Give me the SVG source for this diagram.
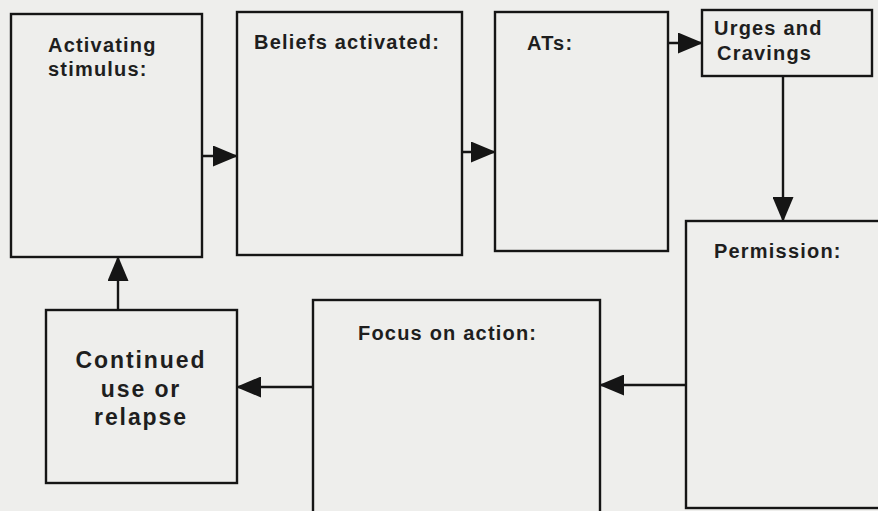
<svg xmlns="http://www.w3.org/2000/svg" width="878" height="511" viewBox="0 0 878 511">
  <style>
    .box { fill: none; stroke: #151515; stroke-width: 2.4; }
    .lbl { font-family: "Liberation Sans", Arial, sans-serif; font-weight: bold; font-size: 20px; letter-spacing: 1.2px; fill: #1e1e1e; }
    .big { font-size: 23px; letter-spacing: 1.9px; }
    .conn { stroke: #151515; stroke-width: 2.4; fill: none; marker-end: url(#ah); }
  </style>
  <defs>
    <marker id="ah" viewBox="0 0 25 21" refX="24" refY="10.5" markerWidth="25" markerHeight="21" markerUnits="userSpaceOnUse" orient="auto">
      <path d="M0,0 L25,10.5 L0,21 z" fill="#151515"/>
    </marker>
  </defs>

  <rect width="878" height="511" fill="#eeeeec"/>

  <g id="connectors">
    <line class="conn" x1="202" y1="156" x2="237" y2="156"/>
    <line class="conn" x1="462" y1="152" x2="495" y2="152"/>
    <line class="conn" x1="668" y1="43" x2="702" y2="43"/>
    <line class="conn" x1="783" y1="76" x2="783" y2="221"/>
    <line class="conn" x1="686" y1="385" x2="600" y2="385"/>
    <line class="conn" x1="313" y1="387" x2="237" y2="387"/>
    <line class="conn" x1="118" y1="310" x2="118" y2="257"/>
  </g>

  <g id="activating-stimulus">
    <rect class="box" x="11" y="14" width="191" height="243"/>
    <text class="lbl" x="48" y="52">Activating</text>
    <text class="lbl" x="48" y="76">stimulus:</text>
  </g>

  <g id="beliefs-activated">
    <rect class="box" x="237" y="12" width="225" height="243"/>
    <text class="lbl" x="254" y="49">Beliefs activated:</text>
  </g>

  <g id="ats">
    <rect class="box" x="495" y="12" width="173" height="239"/>
    <text class="lbl" x="527" y="50">ATs:</text>
  </g>

  <g id="urges-and-cravings">
    <rect class="box" x="702" y="10" width="170" height="66"/>
    <text class="lbl" x="714" y="35">Urges and</text>
    <text class="lbl" x="717" y="60">Cravings</text>
  </g>

  <g id="permission">
    <rect class="box" x="686" y="221" width="200" height="287"/>
    <text class="lbl" x="714" y="258">Permission:</text>
  </g>

  <g id="focus-on-action">
    <rect class="box" x="313" y="300" width="287" height="230"/>
    <text class="lbl" x="358" y="340">Focus on action:</text>
  </g>

  <g id="continued-use-or-relapse">
    <rect class="box" x="46" y="310" width="191" height="173"/>
    <text class="lbl big" x="141" y="368" text-anchor="middle">Continued</text>
    <text class="lbl big" x="141" y="397" text-anchor="middle">use or</text>
    <text class="lbl big" x="141" y="425" text-anchor="middle">relapse</text>
  </g>
</svg>
